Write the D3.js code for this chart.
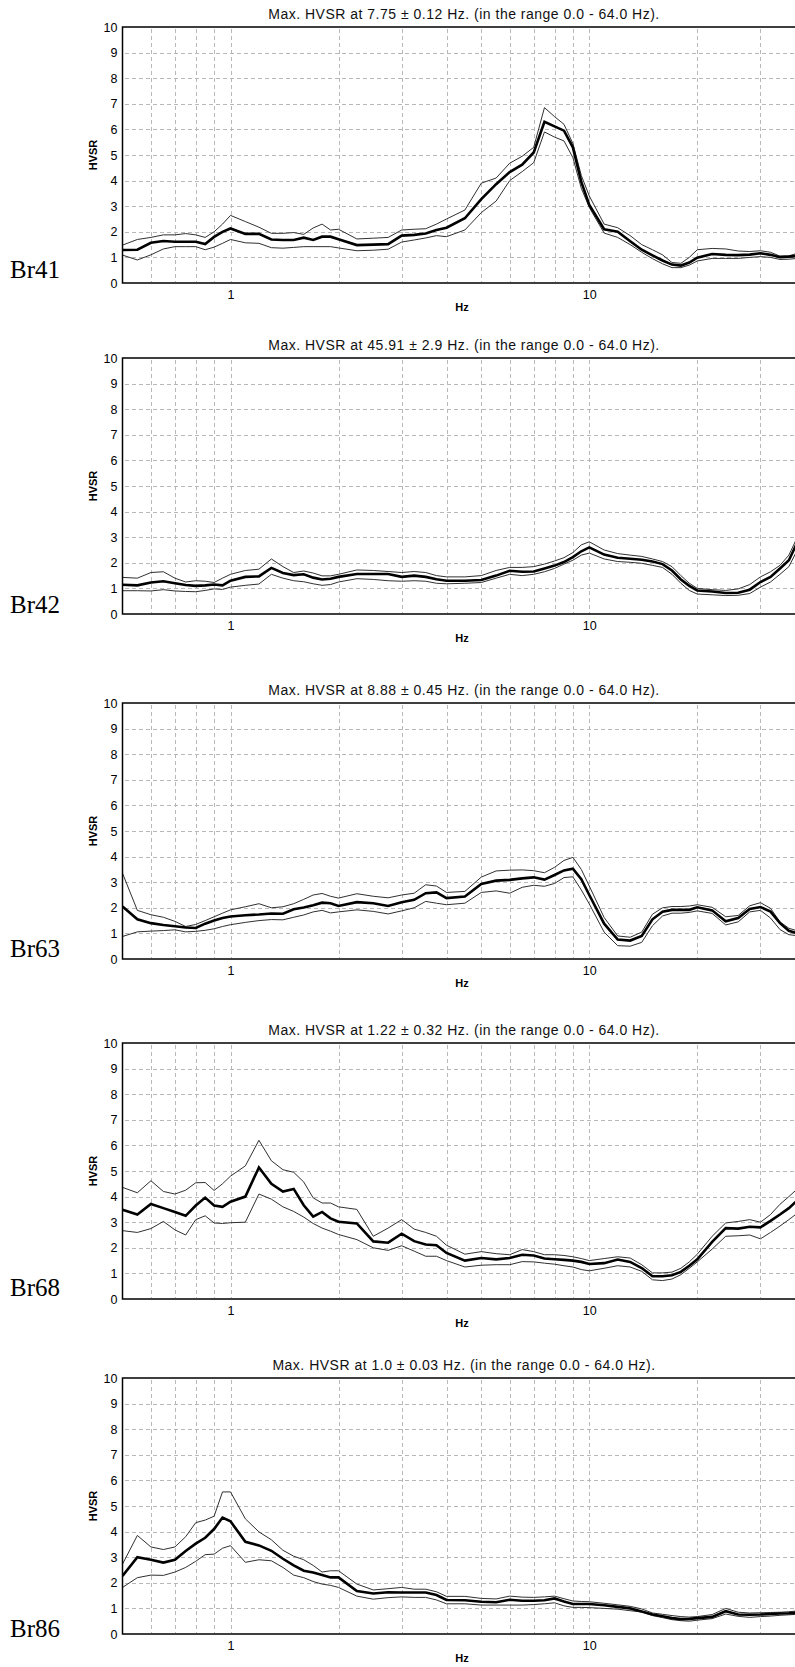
<!DOCTYPE html>
<html><head><meta charset="utf-8">
<script src="https://cdn.jsdelivr.net/npm/d3@7"></script>
<style>
body{margin:0;background:#fff}
svg{display:block;background:#fff}
</style>
</head><body>
<svg id="chart" width="795" height="1667"></svg>
<script>
// ---------- DATA ----------
const FREQS = [0.5,0.55,0.6,0.65,0.7,0.75,0.8,0.85,0.9,0.95,
  1,1.1,1.2,1.3,1.4,1.5,1.6,1.7,1.8,1.9,2,
  2.25,2.5,2.75,3,3.25,3.5,3.75,4,
  4.5,5,5.5,6,6.5,7,7.5,8,8.5,9,9.5,10,
  11,12,13,14,15,16,17,18,19,20,
  22,24,26,28,30,32,34,36,38,40];

const STATIONS = ["Br41","Br42","Br63","Br68","Br86"];
const PEAK_FREQ = ["7.75","45.91","8.88","1.22","1.0"];
const PEAK_ERR = ["0.12","2.9","0.45","0.32","0.03"];
const RANGE_TEXT = "(in the range 0.0 - 64.0 Hz).";
const Y_TICKS = [0,1,2,3,4,5,6,7,8,9,10];
const X_TICKS = [1,10];
const X_GRID = [0.6,0.7,0.8,0.9,1,2,3,4,5,6,7,8,9,10,20,30];

const BR41_MEAN = [1.29,1.3,1.57,1.64,1.61,1.61,1.61,1.52,1.8,2.0,
  2.13,1.92,1.92,1.7,1.68,1.68,1.77,1.68,1.81,1.81,1.71,
  1.48,1.5,1.52,1.85,1.88,1.93,2.07,2.16,
  2.53,3.28,3.86,4.33,4.62,5.1,6.3,6.12,5.95,5.3,3.95,3.05,
  2.1,2.0,1.63,1.3,1.08,0.88,0.72,0.68,0.8,0.99,
  1.13,1.1,1.09,1.11,1.16,1.1,1.01,1.03,1.06,1.06];
const BR41_UPPER = [1.48,1.7,1.78,1.88,1.88,1.93,1.88,1.78,2.0,2.3,
  2.64,2.4,2.18,1.94,1.94,1.97,1.9,2.15,2.3,2.07,2.1,
  1.72,1.75,1.78,2.07,2.1,2.12,2.3,2.5,
  2.85,3.9,4.1,4.68,4.95,5.3,6.85,6.5,6.2,5.45,4.2,3.4,
  2.3,2.16,1.85,1.5,1.3,1.1,0.8,0.77,1.0,1.3,
  1.35,1.33,1.25,1.23,1.26,1.2,1.05,1.06,1.16,1.16];
const BR41_LOWER = [1.09,0.9,1.1,1.33,1.42,1.42,1.42,1.3,1.4,1.55,
  1.7,1.57,1.55,1.38,1.36,1.39,1.42,1.42,1.42,1.42,1.37,
  1.26,1.28,1.32,1.6,1.68,1.76,1.85,1.81,
  2.07,2.75,3.2,4.0,4.35,4.7,5.9,5.7,5.55,4.9,3.7,2.95,
  1.95,1.78,1.5,1.2,0.95,0.75,0.6,0.6,0.7,0.86,
  0.96,0.96,0.96,1.0,1.03,1.0,0.92,0.93,0.96,0.96];

const BR42_MEAN = [1.14,1.12,1.23,1.28,1.2,1.13,1.1,1.12,1.15,1.12,
  1.3,1.45,1.47,1.8,1.6,1.52,1.55,1.42,1.35,1.38,1.45,
  1.56,1.56,1.56,1.45,1.5,1.45,1.36,1.3,
  1.3,1.33,1.5,1.69,1.65,1.66,1.78,1.89,2.03,2.22,2.45,2.6,
  2.32,2.2,2.16,2.12,2.05,1.95,1.7,1.35,1.1,0.92,
  0.88,0.82,0.83,0.95,1.25,1.45,1.78,2.1,2.8,3.1];
const BR42_UPPER = [1.43,1.4,1.62,1.65,1.4,1.25,1.3,1.28,1.23,1.4,
  1.55,1.7,1.75,2.15,1.85,1.62,1.68,1.6,1.49,1.49,1.55,
  1.72,1.7,1.66,1.62,1.66,1.62,1.5,1.45,
  1.45,1.5,1.7,1.82,1.82,1.85,1.95,2.07,2.2,2.4,2.7,2.82,
  2.5,2.36,2.3,2.25,2.15,2.05,1.85,1.5,1.2,1.0,
  0.95,0.92,0.98,1.15,1.45,1.65,1.9,2.3,3.0,3.3];
const BR42_LOWER = [0.91,0.91,0.9,0.95,0.9,0.88,0.87,0.92,0.98,0.96,
  1.05,1.12,1.17,1.55,1.4,1.3,1.26,1.18,1.12,1.15,1.25,
  1.38,1.35,1.3,1.28,1.3,1.28,1.2,1.18,
  1.2,1.23,1.4,1.55,1.5,1.55,1.65,1.78,1.95,2.1,2.3,2.38,
  2.15,2.05,2.02,1.98,1.9,1.82,1.55,1.2,0.92,0.78,
  0.75,0.72,0.73,0.8,1.05,1.25,1.55,1.85,2.5,2.8];

const BR63_MEAN = [2.05,1.55,1.4,1.33,1.28,1.23,1.21,1.38,1.5,1.6,
  1.66,1.71,1.74,1.78,1.77,1.94,2.01,2.1,2.2,2.18,2.07,
  2.22,2.18,2.07,2.22,2.31,2.57,2.6,2.38,
  2.44,2.93,3.06,3.09,3.15,3.19,3.1,3.28,3.46,3.53,3.12,2.5,
  1.38,0.76,0.72,0.9,1.55,1.85,1.92,1.92,1.92,2.02,
  1.9,1.47,1.6,1.95,2.03,1.85,1.4,1.1,1.0,1.0];
const BR63_UPPER = [3.35,1.9,1.73,1.63,1.47,1.27,1.35,1.5,1.65,1.79,
  1.92,2.04,2.16,2.0,2.04,2.16,2.33,2.5,2.56,2.45,2.38,
  2.55,2.45,2.39,2.5,2.57,2.9,2.85,2.6,
  2.64,3.2,3.44,3.47,3.48,3.45,3.37,3.58,3.85,3.97,3.5,2.85,
  1.62,0.9,0.85,1.05,1.75,2.0,2.05,2.05,2.07,2.12,
  2.02,1.65,1.7,2.08,2.2,1.98,1.45,1.2,1.1,1.1];
const BR63_LOWER = [0.88,1.06,1.09,1.11,1.14,1.06,1.08,1.12,1.18,1.27,
  1.34,1.43,1.5,1.54,1.53,1.63,1.72,1.84,1.9,1.8,1.84,
  1.92,1.86,1.76,1.88,2.0,2.25,2.18,2.12,
  2.18,2.6,2.66,2.57,2.8,2.88,2.84,2.95,3.18,3.21,2.7,2.15,
  1.05,0.52,0.5,0.65,1.3,1.68,1.79,1.79,1.82,1.88,
  1.78,1.33,1.45,1.84,1.9,1.6,1.15,0.95,0.91,0.91];

const BR68_MEAN = [3.49,3.3,3.71,3.55,3.4,3.25,3.65,3.96,3.65,3.6,
  3.8,4.0,5.14,4.5,4.2,4.3,3.66,3.22,3.4,3.15,3.02,
  2.95,2.25,2.2,2.55,2.26,2.13,2.1,1.8,
  1.5,1.6,1.55,1.6,1.73,1.7,1.58,1.55,1.53,1.5,1.45,1.37,
  1.4,1.54,1.45,1.21,0.89,0.89,0.93,1.06,1.3,1.55,
  2.23,2.77,2.75,2.82,2.8,3.05,3.3,3.55,3.85,3.95];
const BR68_UPPER = [4.36,4.15,4.62,4.2,4.1,4.25,4.54,4.55,4.24,4.5,
  4.8,5.2,6.2,5.4,5.05,4.95,4.57,3.95,3.75,3.75,3.6,
  3.5,2.45,2.77,3.1,2.73,2.6,2.45,2.1,
  1.75,1.85,1.77,1.73,1.93,1.85,1.73,1.73,1.7,1.65,1.58,1.5,
  1.58,1.65,1.6,1.34,1.02,1.02,1.05,1.2,1.45,1.75,
  2.45,2.97,3.03,3.1,3.0,3.3,3.7,4.0,4.3,4.4];
const BR68_LOWER = [2.67,2.6,2.75,3.03,2.7,2.5,3.1,3.25,2.97,2.95,
  2.98,3.0,4.1,3.9,3.6,3.42,3.2,2.95,2.77,2.65,2.52,
  2.32,2.0,1.9,2.08,1.87,1.67,1.67,1.5,
  1.25,1.32,1.34,1.34,1.46,1.45,1.4,1.36,1.3,1.25,1.15,1.1,
  1.2,1.3,1.25,1.08,0.75,0.72,0.78,0.95,1.2,1.45,
  1.95,2.45,2.47,2.5,2.35,2.6,2.85,3.1,3.35,3.45];

const BR86_MEAN = [2.27,3.0,2.9,2.79,2.9,3.24,3.53,3.76,4.1,4.55,
  4.4,3.6,3.46,3.25,2.94,2.68,2.47,2.4,2.3,2.21,2.21,
  1.68,1.58,1.63,1.62,1.62,1.62,1.52,1.33,
  1.32,1.26,1.24,1.34,1.3,1.3,1.32,1.39,1.27,1.17,1.17,1.17,
  1.12,1.06,1.0,0.88,0.76,0.69,0.62,0.58,0.59,0.62,
  0.67,0.89,0.76,0.75,0.76,0.78,0.8,0.81,0.83,0.84];
const BR86_UPPER = [2.73,3.85,3.4,3.3,3.4,3.8,4.35,4.45,4.6,5.55,
  5.55,4.5,3.99,3.68,3.27,3.04,2.9,2.68,2.42,2.47,2.47,
  1.95,1.72,1.77,1.82,1.75,1.75,1.65,1.47,
  1.47,1.39,1.37,1.48,1.44,1.43,1.45,1.48,1.38,1.29,1.27,1.26,
  1.2,1.14,1.08,0.98,0.82,0.77,0.72,0.68,0.66,0.68,
  0.76,1.0,0.85,0.82,0.83,0.84,0.85,0.87,0.9,0.91];
const BR86_LOWER = [1.82,2.2,2.3,2.29,2.42,2.6,2.84,3.1,3.12,3.35,
  3.45,2.8,2.9,2.86,2.6,2.3,2.2,2.05,1.95,1.9,1.82,
  1.48,1.36,1.42,1.45,1.43,1.43,1.33,1.18,
  1.18,1.13,1.13,1.13,1.13,1.15,1.18,1.22,1.1,1.04,1.04,1.03,
  1.0,0.97,0.91,0.86,0.72,0.64,0.56,0.52,0.5,0.54,
  0.6,0.78,0.69,0.65,0.68,0.7,0.73,0.75,0.77,0.78];

const SERIES = [
  {mean: BR41_MEAN, upper: BR41_UPPER, lower: BR41_LOWER},
  {mean: BR42_MEAN, upper: BR42_UPPER, lower: BR42_LOWER},
  {mean: BR63_MEAN, upper: BR63_UPPER, lower: BR63_LOWER},
  {mean: BR68_MEAN, upper: BR68_UPPER, lower: BR68_LOWER},
  {mean: BR86_MEAN, upper: BR86_UPPER, lower: BR86_LOWER}
];

// ---------- LAYOUT ----------
const PANEL_TOPS = [27, 358, 703, 1043, 1378];
const LABEL_BASELINES = [278, 613, 957, 1296, 1637];
const PLOT_H = 256;
const X0 = 122.5, X1 = 805.3;
const FONT = "'Liberation Sans', Arial, sans-serif";
const TITLE_WIDTH = 391; // measured width of first title in the reference

const svg = d3.select("#chart");
svg.append("rect").attr("width",795).attr("height",1667).attr("fill","#fff");

const x = d3.scaleLog().domain([0.5, 40]).range([X0, X1]);
const titles = [];

STATIONS.forEach((name, i) => {
  const top = PANEL_TOPS[i];
  const bottom = top + PLOT_H;
  const y = d3.scaleLinear().domain([0, 10]).range([bottom, top]);
  const g = svg.append("g");

  const clipId = "clip" + i;
  g.append("clipPath").attr("id", clipId)
    .append("rect").attr("x", X0).attr("y", top).attr("width", X1 - X0).attr("height", PLOT_H);

  // gridlines
  const grid = g.append("g").attr("stroke", "#b8b8b8").attr("stroke-width", 1)
    .attr("stroke-dasharray", "4,3").attr("shape-rendering","crispEdges");
  grid.selectAll(".hg").data(Y_TICKS.filter(t => t > 0 && t < 10)).join("line")
    .attr("x1", X0 + 2).attr("x2", X1).attr("y1", d => Math.round(y(d)) + 0.5).attr("y2", d => Math.round(y(d)) + 0.5);
  grid.selectAll(".vg").data(X_GRID).join("line")
    .attr("y1", top + 2).attr("y2", bottom - 1).attr("x1", d => Math.round(x(d)) + 0.5).attr("x2", d => Math.round(x(d)) + 0.5);

  // curves
  const line = d3.line().x((d, k) => x(FREQS[k])).y(d => y(d)).curve(d3.curveLinear);
  const s = SERIES[i];
  const cg = g.append("g").attr("clip-path", `url(#${clipId})`).attr("fill", "none");
  cg.append("path").datum(s.upper).attr("d", line).attr("stroke", "#303030").attr("stroke-width", 1);
  cg.append("path").datum(s.lower).attr("d", line).attr("stroke", "#303030").attr("stroke-width", 1);
  cg.append("path").datum(s.mean).attr("d", line).attr("stroke", "#000").attr("stroke-width", 2.6)
    .attr("stroke-linejoin","miter");

  // frame (top, left, bottom)
  g.append("path").attr("fill","none").attr("stroke","#000").attr("stroke-width",1.5)
    .attr("d", `M${X1},${top}H${X0}V${bottom}H${X1}`);

  // y axis
  const ya = d3.axisLeft(y).tickValues(Y_TICKS).tickSize(0).tickPadding(5).tickFormat(d3.format("d"));
  const yg = g.append("g").attr("transform", `translate(${X0},0)`).call(ya);
  yg.select(".domain").remove();
  yg.selectAll("text").attr("font-family", FONT).attr("font-size", 12.5).attr("fill", "#000");

  // x axis
  const xa = d3.axisBottom(x).tickValues(X_TICKS).tickSize(0).tickPadding(7).tickFormat(d3.format("d"));
  const xg = g.append("g").attr("transform", `translate(0,${bottom})`).call(xa);
  xg.select(".domain").remove();
  xg.selectAll("text").attr("font-family", FONT).attr("font-size", 12.5).attr("fill", "#000");

  // axis titles
  g.append("text").attr("x", 462).attr("y", bottom + 28).attr("text-anchor","middle")
    .attr("font-family", FONT).attr("font-size", 11).attr("font-weight","bold").text("Hz");
  g.append("text").attr("transform", `translate(97,${top + PLOT_H/2}) rotate(-90)`)
    .attr("text-anchor","middle").attr("font-family", FONT).attr("font-size", 11)
    .attr("font-weight","bold").text("HVSR");

  // chart title
  const t = g.append("text").attr("x", 464).attr("y", top - 8).attr("text-anchor","middle")
    .attr("font-family", FONT).attr("font-size", 14).attr("fill","#111")
    .text(`Max. HVSR at ${PEAK_FREQ[i]} \u00B1 ${PEAK_ERR[i]} Hz. ${RANGE_TEXT}`);
  titles.push(t);

  // station label
  svg.append("text").attr("x", 10).attr("y", LABEL_BASELINES[i])
    .attr("font-family", "'Liberation Serif', 'Times New Roman', serif").attr("font-size", 25)
    .attr("fill","#000").text(name);
});

// stretch title letter spacing so the first title matches the reference width
const first = titles[0];
const natural = first.node().getComputedTextLength();
const nChars = first.text().length;
const ls = Math.max(0, (TITLE_WIDTH - natural) / (nChars - 1));
titles.forEach(t => t.attr("letter-spacing", ls.toFixed(3)));
</script>
</body></html>
